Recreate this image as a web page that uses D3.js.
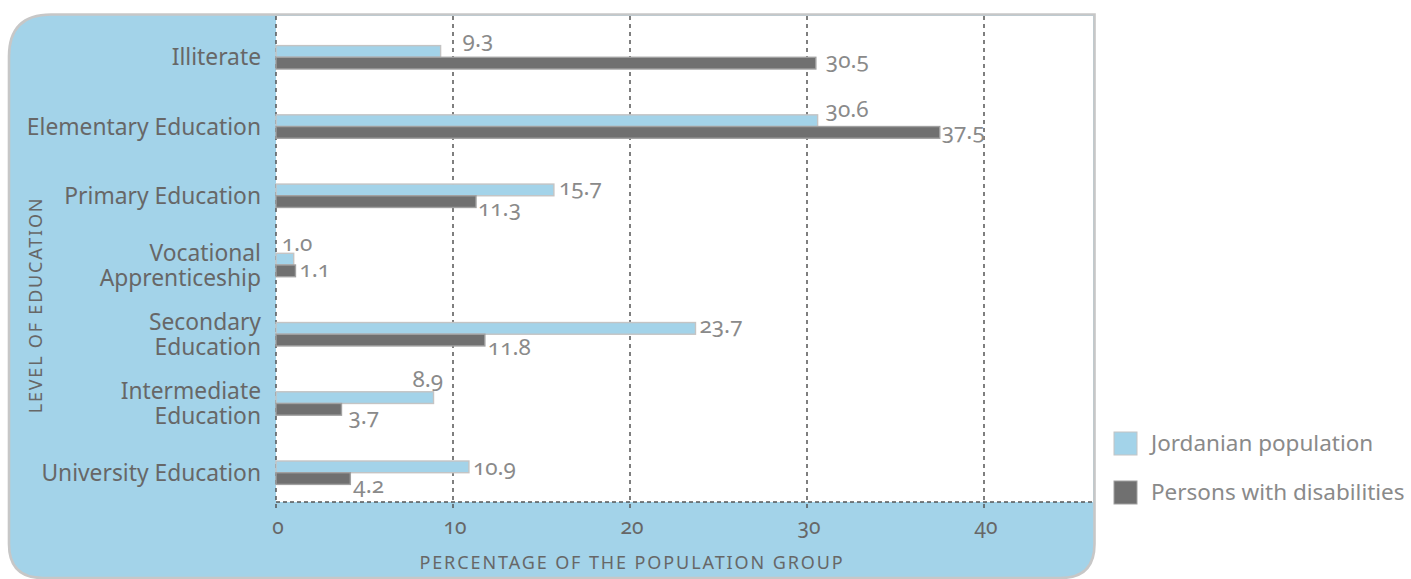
<!DOCTYPE html>
<html>
<head>
<meta charset="utf-8">
<script src="https://cdn.jsdelivr.net/npm/d3@7"></script>
<style>
  html, body { margin: 0; padding: 0; background: #ffffff; }
  svg { display: block; font-family: "Noto Sans", "Open Sans", sans-serif; }
  .num { font-variant-numeric: oldstyle-nums; font-feature-settings: "onum" 1; }
</style>
</head>
<body>
<svg id="chart" width="1411" height="579"></svg>
<script>
// Education level of the Jordanian population vs. persons with disabilities (%)
const categories = [
  "Illiterate",
  "Elementary Education",
  "Primary Education",
  "Vocational Apprenticeship",
  "Secondary Education",
  "Intermediate Education",
  "University Education"
];
// How each category name breaks into lines
const categoryLines = [
  ["Illiterate"],
  ["Elementary Education"],
  ["Primary Education"],
  ["Vocational", "Apprenticeship"],
  ["Secondary", "Education"],
  ["Intermediate", "Education"],
  ["University Education"]
];
const jordanianPopulation = [9.3, 30.6, 15.7, 1.0, 23.7, 8.9, 10.9];
const personsWithDisabilities = [30.5, 37.5, 11.3, 1.1, 11.8, 3.7, 4.2];
const xTicks = [0, 10, 20, 30, 40];
const seriesNames = ["Jordanian population", "Persons with disabilities"];

// Layout
const plotLeft = 276, plotRight = 1093, plotTop = 15, plotBottom = 502;
const barH = 11.7;
const colLight = "#a3d3e9", colDark = "#707070";
const textDark = "#676767", textLight = "#8a8a8a";

// Label placement tweaks: [dx from bar end, baseline offset from the group centre]
const jorLabelNudge = [[22, -10], [8, -10], [5, -1], [-12, -14], [4, -1], [-21, -16.5], [4, 2]];
const pwdLabelNudge = [[10, 11], [2, 12], [2, 20], [4, 11.5], [3, 21], [7, 21], [3, 20.5]];

const svg = d3.select("#chart");

const x = d3.scaleLinear().domain([0, 40]).range([plotLeft, 984]);
const y = d3.scalePoint().domain(categories).range([57.3, 472.7]);

// Background panel: rounded on three corners, square at the top right
const pL = 9, pR = 1094.5, pT = 14.5, pB = 578, rTL = 42, rB = 34;
const panel = d3.path();
panel.moveTo(pL + rTL, pT);
panel.lineTo(pR, pT);
panel.lineTo(pR, pB - rB);
panel.quadraticCurveTo(pR, pB, pR - rB, pB);
panel.lineTo(pL + rB, pB);
panel.quadraticCurveTo(pL, pB, pL, pB - rB);
panel.lineTo(pL, pT + rTL);
panel.quadraticCurveTo(pL, pT, pL + rTL, pT);
panel.closePath();
svg.append("path").attr("d", panel.toString())
  .attr("fill", colLight).attr("stroke", "#c7c7c7").attr("stroke-width", 2.6);

// White plotting area
svg.append("rect")
  .attr("x", plotLeft).attr("y", plotTop + 1)
  .attr("width", plotRight - plotLeft).attr("height", plotBottom - plotTop - 1)
  .attr("fill", "#ffffff");

// Dashed grid lines (also act as tick marks below the baseline)
svg.append("g").selectAll("line").data(xTicks).join("line")
  .attr("x1", d => x(d)).attr("x2", d => x(d))
  .attr("y1", plotTop + 1).attr("y2", plotBottom + 10)
  .attr("stroke", "#555").attr("stroke-width", 1.5).attr("stroke-dasharray", "4,4");
svg.append("line")
  .attr("x1", plotLeft).attr("x2", plotRight)
  .attr("y1", plotBottom).attr("y2", plotBottom)
  .attr("stroke", "#555").attr("stroke-width", 1.5).attr("stroke-dasharray", "4,3");

// X tick labels
svg.append("g").selectAll("text").data(xTicks).join("text")
  .attr("class", "num")
  .attr("x", d => x(d) + 2).attr("y", 534)
  .attr("text-anchor", "middle")
  .attr("font-size", 21).attr("fill", textDark)
  .text(d => d);

// Axis titles
svg.append("text")
  .attr("x", 632).attr("y", 569)
  .attr("text-anchor", "middle")
  .attr("font-size", 18).attr("letter-spacing", 1.9).attr("fill", textDark)
  .text("PERCENTAGE OF THE POPULATION GROUP");
svg.append("text")
  .attr("transform", "translate(42,305) rotate(-90)")
  .attr("text-anchor", "middle")
  .attr("font-size", 18).attr("letter-spacing", 1.8).attr("fill", textDark)
  .text("LEVEL OF EDUCATION");

// Category labels
const catG = svg.append("g").selectAll("text").data(categories).join("text")
  .attr("text-anchor", "end")
  .attr("font-size", 22.8).attr("fill", textDark);
catG.each(function(c, i) {
  const lines = categoryLines[i];
  const t = d3.select(this);
  lines.forEach((ln, j) => {
    const off = (j - (lines.length - 1) / 2) * 25;
    t.append("tspan").attr("x", 261).attr("y", y(c) + 8 + off).text(ln);
  });
});

// Bars
const bars = svg.append("g");
bars.selectAll("rect.jor").data(jordanianPopulation).join("rect")
  .attr("class", "jor")
  .attr("x", x(0)).attr("y", (d, i) => y(categories[i]) - barH)
  .attr("width", d => x(d) - x(0)).attr("height", barH)
  .attr("fill", colLight).attr("stroke", "#c4c4c4").attr("stroke-width", 1.4);
bars.selectAll("rect.pwd").data(personsWithDisabilities).join("rect")
  .attr("class", "pwd")
  .attr("x", x(0)).attr("y", (d, i) => y(categories[i]))
  .attr("width", d => x(d) - x(0)).attr("height", barH)
  .attr("fill", colDark).attr("stroke", "#a0a0a0").attr("stroke-width", 1.4);

// Value labels
const labels = svg.append("g").attr("class", "num")
  .attr("font-size", 22.5).attr("fill", textLight);
labels.selectAll("text.jor").data(jordanianPopulation).join("text")
  .attr("class", "jor")
  .attr("x", (d, i) => x(d) + jorLabelNudge[i][0])
  .attr("y", (d, i) => y(categories[i]) + jorLabelNudge[i][1])
  .text(d => d3.format(".1f")(d));
labels.selectAll("text.pwd").data(personsWithDisabilities).join("text")
  .attr("class", "pwd")
  .attr("x", (d, i) => x(d) + pwdLabelNudge[i][0])
  .attr("y", (d, i) => y(categories[i]) + pwdLabelNudge[i][1])
  .text(d => d3.format(".1f")(d));

// Legend
const legend = svg.append("g").selectAll("g").data(seriesNames).join("g")
  .attr("transform", (d, i) => `translate(1114,${432 + i * 49})`);
legend.append("rect")
  .attr("width", 23).attr("height", 23)
  .attr("fill", (d, i) => i === 0 ? colLight : colDark)
  .attr("stroke", (d, i) => i === 0 ? "#c4c4c4" : "#a0a0a0").attr("stroke-width", 1);
legend.append("text")
  .attr("x", 37).attr("y", 19)
  .attr("font-size", 22.5).attr("fill", textLight)
  .text(d => d);
</script>
</body>
</html>
